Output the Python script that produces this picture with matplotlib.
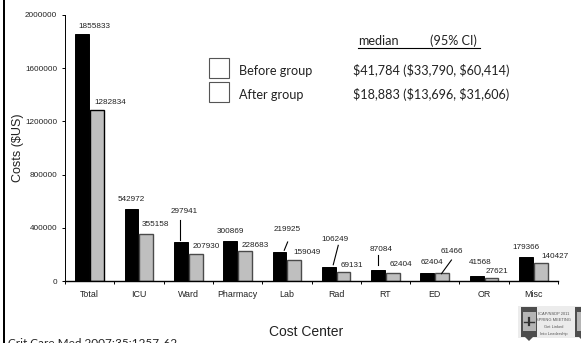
import numpy as np
from matplotlib import pyplot as plt
from matplotlib.patches import Polygon, Rectangle

plt.rcParams['font.family'] = ['Liberation Sans', 'DejaVu Sans']

centers = ['Total', 'ICU', 'Ward', 'Pharmacy', 'Lab', 'Rad', 'RT', 'ED', 'OR', 'Misc']
before = [1855833, 542972, 297941, 300869, 219925, 106249, 87084, 62404, 41568, 179366]
after = [1282834, 355158, 207930, 228683, 159049, 69131, 62404, 61466, 27621, 140427]
yticks = [0, 400000, 800000, 1200000, 1600000, 2000000]
W, H = 581, 343
AX_L, AX_R, AX_T, AX_B = 65, 558, 14.7, 281.3

# value label offsets from the bar top, in pixels (dx, dy up)
before_off = [(11.7, 7.9), (-0.6, 9.9), (3.1, 29.6), (-0.2, 9.2), (7.5, 22),
              (6.2, 28.1), (2.9, 19.7), (4.6, 10), (3.3, 12.8), (0, 9.4)]
after_off = [(13.7, 7.3), (9.4, 9), (11.1, 6.6), (10.8, 5.8), (12.5, 7.1),
             (8.2, 7), (7.9, 8), (9.6, 22), (5.3, 6.6), (14, 5.6)]

# leader lines: category, series, then both ends as pixel offsets from the bar top
leaders = [(2, 0, -0.6, 1.6, -0.6, 21.6), (4, 0, 4.8, 1.7, 8.2, 10),
           (5, 0, 4.5, 2.4, 9.5, 21.8), (6, 0, -0.4, 5, -0.4, 14.4),
           (7, 1, -0.7, -0.6, 9.3, 13.1)]

fig = plt.figure(figsize=(W / 100, H / 100), dpi=100)
ax = fig.add_axes([AX_L / W, 1 - AX_B / H, (AX_R - AX_L) / W, (AX_B - AX_T) / H])

x = np.arange(len(centers))
px_x = len(centers) / (AX_R - AX_L)
px_y = 2000000 / (AX_B - AX_T)
bw = 13.8 * px_x
shift = 7.4 * px_x
x_before = x - shift
x_after = x + shift

ax.bar(x_before, before, bw, color='black', edgecolor='black', linewidth=0.7)
bars = ax.bar(x_after, after, bw, color='#bfbfbf', edgecolor='#4a4a4a', linewidth=1.0)
bars[0].set_edgecolor('black')

ax.set_xlim(-0.5, 9.5)
ax.set_ylim(0, 2000000)
for s in ('top', 'right'):
    ax.spines[s].set_visible(False)
ax.spines['left'].set_linewidth(0.7)
ax.spines['bottom'].set_linewidth(1.0)
ax.set_yticks(yticks)
ax.set_yticklabels([str(t) for t in yticks], fontsize=5.9, color='#222222')
ax.set_xticks(np.arange(len(centers) + 1) - 0.5)
ax.set_xticklabels([])
ax.tick_params(axis='y', length=2, width=0.7, pad=3.5)
ax.tick_params(axis='x', length=2.2, width=0.7)
for i, name in enumerate(centers):
    ax.text(i, -13.6 * px_y, name, ha='center', va='center', fontsize=6.4,
            color='#222222', clip_on=False)

for i in range(len(centers)):
    ax.text(x_before[i] + before_off[i][0] * px_x, before[i] + before_off[i][1] * px_y,
            str(before[i]), ha='center', va='center', fontsize=5.9, color='#222222')
    ax.text(x_after[i] + after_off[i][0] * px_x, after[i] + after_off[i][1] * px_y,
            str(after[i]), ha='center', va='center', fontsize=5.9, color='#222222')

for cat, series, dx0, dy0, dx1, dy1 in leaders:
    xc = x_before[cat] if series == 0 else x_after[cat]
    val = before[cat] if series == 0 else after[cat]
    ax.plot([xc + dx0 * px_x, xc + dx1 * px_x], [val + dy0 * px_y, val + dy1 * px_y],
            color='black', lw=0.8)

# slide overlay, positioned in figure pixels
overlay = fig.add_axes([0, 0, 1, 1], facecolor='none')
overlay.set_xlim(0, W)
overlay.set_ylim(H, 0)
overlay.axis('off')
overlay.add_patch(Rectangle((2.7, -1), 2.3, H + 2, color='black', lw=0))
overlay.add_patch(Rectangle((209, 57.5), 19.5, 20, fc='white', ec='#555555', lw=0.8))
overlay.add_patch(Rectangle((209, 82), 19.5, 20, fc='white', ec='#555555', lw=0.8))

txt = dict(fontfamily=['Lato', 'DejaVu Sans'], color='#222222', va='center')
size = 9.1
overlay.text(239, 70.7, 'Before group', fontsize=size, **txt)
overlay.text(239, 94.6, 'After group', fontsize=size, **txt)
overlay.text(353, 70.7, r'\$41,784 (\$33,790, \$60,414)', fontsize=size, **txt)
overlay.text(353, 94.6, r'\$18,883 (\$13,696, \$31,606)', fontsize=size, **txt)
overlay.text(358, 40.7, 'median', fontsize=size, **txt)
overlay.text(430, 40.7, '(95% CI)', fontsize=size, **txt)
overlay.plot([358, 480], [47.7, 47.7], color='black', lw=0.8)
overlay.text(8, 342.5, 'Crit Care Med 2007;35:1257-62', fontsize=8.5, **txt)

overlay.text(18, 148, r'Costs (\$US)', fontsize=9, rotation=90, ha='center', va='center', color='#222222')
overlay.text(306, 332, 'Cost Center', fontsize=10, ha='center', va='center', color='#222222')

# meeting badge in the bottom right corner
overlay.add_patch(Rectangle((518, 306), 63, 32, fc='#ececec', lw=0))
for left in (521, 575):
    overlay.add_patch(Rectangle((left, 307), 16, 30, fc='#4d4d4d', lw=0))
    overlay.add_patch(Rectangle((left + 1.5, 312), 13, 19, fc='#b5b5b5', lw=0))
    overlay.add_patch(Polygon([(left + 4, 337), (left + 12, 337), (left + 8, 341)], fc='#4d4d4d', lw=0))
overlay.plot([524, 534], [321.5, 321.5], color='#333333', lw=1.0)
overlay.plot([529, 529], [318, 325], color='#333333', lw=1.6)
badge_lines = ['ICAP/NSDP 2011', 'SPRING MEETING', 'Get Linked', 'Into Leadership']
for y, line in zip((314, 320, 327, 334), badge_lines):
    overlay.text(554, y, line, fontsize=2.9, ha='center', va='center', color='#555555')

plt.savefig('out.png', dpi=100)
